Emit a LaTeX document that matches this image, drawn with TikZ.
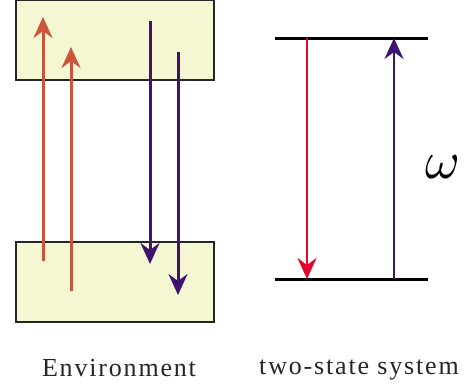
\documentclass[tikz,border=0pt]{standalone}
\usepackage{fontspec}
\setmainfont{Liberation Serif}
\newfontfamily\lblfont[LetterSpace=7]{Liberation Serif}
\usetikzlibrary{arrows.meta}
\definecolor{boxfill}{HTML}{F5F6D2}
\definecolor{orng}{HTML}{C9553B}
\definecolor{purp}{HTML}{3D1470}
\definecolor{redd}{HTML}{E2062E}
\tikzset{
  envbox/.style={draw=black!85, line width=1.6pt, fill=boxfill, minimum width=198pt, minimum height=80pt, inner sep=0pt},
  tip/.style={-{Stealth[length=21pt,width=19pt,inset=7pt]}},
  uparr/.style={draw=orng, line width=3pt, tip},
  dnarr/.style={draw=purp, line width=3pt, tip},
  level/.style={draw=black, line width=3pt},
  lbl/.style={font=\lblfont\fontsize{26}{30}\selectfont, anchor=base, inner sep=0pt, text=black!85},
}
\begin{document}
\begin{tikzpicture}[x=1pt,y=-1pt]
\useasboundingbox (0,0) rectangle (469,386);
% environment boxes
\node[envbox] (topbox) at (115,40) {};
\node[envbox] (botbox) at (115,282) {};
% environment arrows
\coordinate (o1s) at (43,261); \coordinate (o1e) at (43,17);
\coordinate (o2s) at (71,291); \coordinate (o2e) at (71,47);
\coordinate (p1s) at (150,21); \coordinate (p1e) at (150,264);
\coordinate (p2s) at (178,52); \coordinate (p2e) at (178,295);
\draw[uparr] (o1s) -- (o1e);
\draw[uparr] (o2s) -- (o2e);
\draw[dnarr] (p1s) -- (p1e);
\draw[dnarr] (p2s) -- (p2e);
% two-state system
\coordinate (tl) at (275,38); \coordinate (tr) at (428,38);
\coordinate (bl) at (275,279); \coordinate (br) at (428,279);
\draw[level] (tl) -- (tr);
\draw[level] (bl) -- (br);
\coordinate (rs) at (307,38); \coordinate (re) at (307,279);
\coordinate (vs) at (394,279); \coordinate (ve) at (394,38);
\draw[draw=redd, line width=2.2pt, tip] (rs) -- (re);
\draw[draw=purp, line width=2.2pt, tip] (vs) -- (ve);
\node[inner sep=0pt, scale=5.3] (omega) at (443,167) {$\omega$};
% labels
\node[lbl] (envlbl) at (119,376) {Environment};
\node[lbl] (syslbl) at (359,374) {two-state system};
\end{tikzpicture}
\end{document}
